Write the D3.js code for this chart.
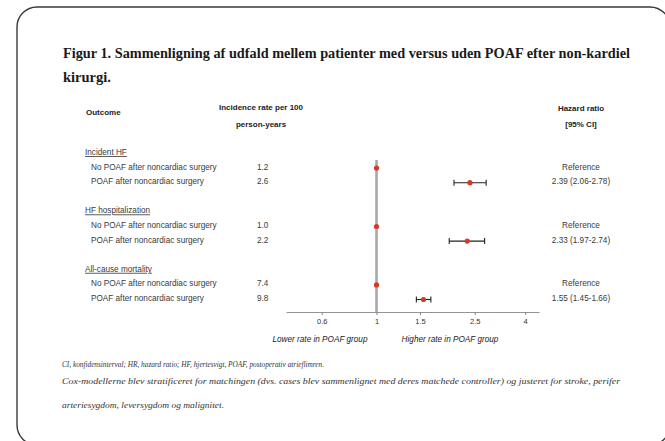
<!DOCTYPE html>
<html>
<head>
<meta charset="utf-8">
<script src="https://cdn.jsdelivr.net/npm/d3@7"></script>
<style>
  html, body { margin: 0; padding: 0; background: #fff; }
  svg { display: block; }
</style>
</head>
<body>
<svg id="chart" width="665" height="441"></svg>
<script>
// Outcome groups and their rows
const groups = ["Incident HF", "HF hospitalization", "All-cause mortality"];
const rowLabels = ["No POAF after noncardiac surgery", "POAF after noncardiac surgery"];

// Incidence rate per 100 person-years: [no POAF, POAF] per group
const incidence = [
  ["1.2", "2.6"],
  ["1.0", "2.2"],
  ["7.4", "9.8"]
];

// Hazard ratios (POAF vs no POAF) with 95% CI
const hr = [2.39, 2.33, 1.55];
const hrLow = [2.06, 1.97, 1.45];
const hrHigh = [2.78, 2.74, 1.66];
const hrText = ["2.39 (2.06-2.78)", "2.33 (1.97-2.74)", "1.55 (1.45-1.66)"];

const tickValues = [0.6, 1, 1.5, 2.5, 4];

const titleLines = [
  "Figur 1. Sammenligning af udfald mellem patienter med versus uden POAF efter non-kardiel",
  "kirurgi."
];
const footnotes = [
  "CI, konfidensinterval; HR, hazard ratio; HF, hjertesvigt, POAF, postoperativ atrieflimren.",
  "Cox-modellerne blev stratificeret for matchingen (dvs. cases blev sammenlignet med deres matchede controller) og justeret for stroke, perifer",
  "arteriesygdom, leversygdom og malignitet."
];

const svg = d3.select("#chart");
const sans = "'Liberation Sans', Arial, sans-serif";
const serif = "'Liberation Serif', 'Times New Roman', serif";

// Rounded frame
svg.append("rect")
  .attr("x", 17).attr("y", 7)
  .attr("width", 653).attr("height", 438)
  .attr("rx", 20).attr("ry", 20)
  .attr("fill", "none")
  .attr("stroke", "#3a3a3a")
  .attr("stroke-width", 1.4);

// Title
function fitText(sel, width) {
  sel.attr("textLength", width).attr("lengthAdjust", "spacingAndGlyphs");
}
svg.append("text")
  .attr("x", 63).attr("y", 58)
  .attr("font-family", serif).attr("font-weight", "bold")
  .attr("font-size", 14.5).attr("fill", "#1a1a1a")
  .text(titleLines[0])
  .call(fitText, 567);
svg.append("text")
  .attr("x", 63).attr("y", 82)
  .attr("font-family", serif).attr("font-weight", "bold")
  .attr("font-size", 14.5).attr("fill", "#1a1a1a")
  .text(titleLines[1]);

// Column headers
const hdr = svg.append("g")
  .attr("font-family", sans).attr("font-weight", "bold")
  .attr("font-size", 8).attr("fill", "#222");
hdr.append("text").attr("x", 86).attr("y", 115).text("Outcome");
hdr.append("text").attr("x", 261).attr("y", 110).attr("text-anchor", "middle").text("Incidence rate per 100");
hdr.append("text").attr("x", 261).attr("y", 127).attr("text-anchor", "middle").text("person-years");
hdr.append("text").attr("x", 581).attr("y", 111).attr("text-anchor", "middle").text("Hazard ratio");
hdr.append("text").attr("x", 581).attr("y", 127).attr("text-anchor", "middle").text("[95% CI]");

// Vertical slot positions: heading, row, row, gap, ...
const slot = d3.scaleLinear().domain([0, 10]).range([152, 298]);

// Hazard-ratio scale (log)
const x = d3.scaleLog().domain([0.43, 4.55]).range([286, 539]);
const axisY = 312;

// Reference line at HR = 1
svg.append("line")
  .attr("x1", x(1)).attr("x2", x(1))
  .attr("y1", slot(0) + 8).attr("y2", axisY)
  .attr("stroke", "#a8a8a8").attr("stroke-width", 2.6);

const body = svg.append("g").attr("font-family", sans).attr("font-size", 8.2).attr("fill", "#3a3a3a");

groups.forEach((g, gi) => {
  const y0 = slot(gi * 4);
  body.append("text")
    .attr("x", 85).attr("y", y0 + 3)
    .attr("text-decoration", "underline")
    .text(g);

  rowLabels.forEach((lab, ri) => {
    const y = slot(gi * 4 + 1 + ri);
    body.append("text").attr("x", 91).attr("y", y + 3).text(lab);
    body.append("text").attr("x", 257).attr("y", y + 3).text(incidence[gi][ri]);
    body.append("text").attr("x", 581).attr("y", y + 3)
      .attr("text-anchor", "middle")
      .text(ri === 0 ? "Reference" : hrText[gi]);
  });

  // Reference group marker
  const yRef = slot(gi * 4 + 1) + 1.5;
  svg.append("circle")
    .attr("cx", x(1)).attr("cy", yRef).attr("r", 2.6)
    .attr("fill", "#d63a27");

  // POAF estimate with CI
  const yP = slot(gi * 4 + 2) + 1.5;
  const ci = svg.append("g").attr("stroke", "#222").attr("stroke-width", 1.1);
  ci.append("line").attr("x1", x(hrLow[gi])).attr("x2", x(hrHigh[gi])).attr("y1", yP).attr("y2", yP);
  ci.append("line").attr("x1", x(hrLow[gi])).attr("x2", x(hrLow[gi])).attr("y1", yP - 3).attr("y2", yP + 3);
  ci.append("line").attr("x1", x(hrHigh[gi])).attr("x2", x(hrHigh[gi])).attr("y1", yP - 3).attr("y2", yP + 3);
  svg.append("circle")
    .attr("cx", x(hr[gi])).attr("cy", yP).attr("r", 2.6)
    .attr("fill", "#d63a27");
});

// X axis
const axis = d3.axisBottom(x)
  .tickValues(tickValues)
  .tickFormat(d3.format("~g"))
  .tickSize(3)
  .tickSizeOuter(0);
const ax = svg.append("g")
  .attr("transform", `translate(0,${axisY})`)
  .call(axis);
ax.select(".domain").attr("stroke", "#888").attr("stroke-width", 0.9);
ax.selectAll(".tick line").attr("stroke", "#888");
ax.selectAll(".tick text")
  .attr("font-family", sans).attr("font-size", 7.5).attr("fill", "#333").attr("dy", "0.85em");

// Direction labels
const dir = svg.append("g").attr("font-family", sans).attr("font-style", "italic")
  .attr("font-size", 8.2).attr("fill", "#222").attr("text-anchor", "middle");
dir.append("text").attr("x", 320).attr("y", 342).text("Lower rate in POAF group");
dir.append("text").attr("x", 450).attr("y", 342).text("Higher rate in POAF group");

// Footnotes
const fn = svg.append("g").attr("font-family", serif).attr("font-style", "italic")
  .attr("font-size", 8).attr("fill", "#333");
fn.append("text").attr("x", 62).attr("y", 367).text(footnotes[0]).call(fitText, 262);
fn.append("text").attr("x", 62).attr("y", 384).text(footnotes[1]).call(fitText, 558);
fn.append("text").attr("x", 62).attr("y", 408).text(footnotes[2]).call(fitText, 162);
</script>
</body>
</html>
